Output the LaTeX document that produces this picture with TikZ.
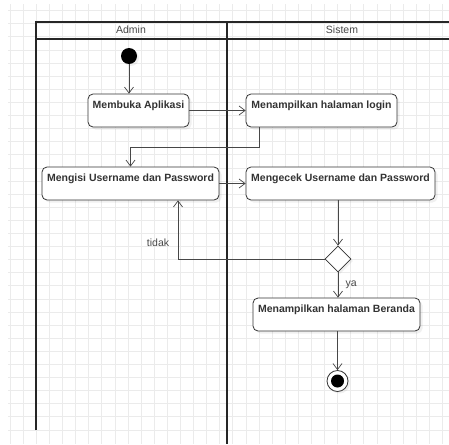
\documentclass[tikz,border=0pt]{standalone}
\usepackage{fontspec}
\setmainfont{Liberation Sans}
\usetikzlibrary{arrows.meta,shapes.geometric,shadows}
\definecolor{ink}{HTML}{333333}
\definecolor{gridc}{HTML}{EBEBEB}
\tikzset{
  act/.style={draw=ink,fill=white,rounded corners=5pt,line width=0.8pt,
    inner xsep=2pt,inner ysep=0pt,text height=14.5pt,text depth=18.5pt,
    font=\bfseries\fontsize{10.5}{12}\selectfont,text=ink,
    drop shadow={shadow xshift=2.5pt,shadow yshift=-2.5pt,opacity=0.12}},
  flow/.style={draw=ink!90,line width=0.7pt,-{Straight Barb[length=6pt,width=9pt]}},
  lbl/.style={font=\fontsize{10.5}{12}\selectfont,text=ink!90},
  lane/.style={draw=black!85,line width=1.2pt}
}
\begin{document}
\begin{tikzpicture}[x=1pt,y=-1pt]
\useasboundingbox (0,0) rectangle (449,444);
% grid
\foreach \i in {0,...,33}
  \draw[gridc,line width=0.6pt] (10+\i*13.1,4) -- (10+\i*13.1,444);
\foreach \j in {0,...,32}
  \draw[gridc,line width=0.6pt] (8,10.6+\j*13.1) -- (449,10.6+\j*13.1);
% swimlanes
\draw[lane] (36,430) -- (36,22) -- (449,22);
\draw[lane] (36,39) -- (449,39);
\draw[lane] (227,22) -- (227,444);
\node(admin) at (131,30)[lbl]   {Admin};
\node(sistem) at (342,30)[lbl]  {Sistem};

\node(mulai) at (129,56)[shape=circle,fill=black,minimum size=16pt,inner sep=0pt,
  drop shadow={shadow xshift=2pt,shadow yshift=-2pt,opacity=0.12}] {};
\node(membuka) at (138.5,110.5)[act,minimum width=101pt]   {Membuka Aplikasi};
\node(login) at (321.5,110.5)[act,minimum width=151pt]     {Menampilkan halaman login};
\node(mengisi) at (130.5,183.5)[act,minimum width=177pt]   {Mengisi Username dan Password};
\node(mengecek) at (340.5,183.5)[act,minimum width=189pt]  {Mengecek Username dan Password};
\node(cek) at (338,259)[shape=diamond,draw=ink,fill=white,line width=0.8pt,
  minimum size=26pt,inner sep=0pt,
  drop shadow={shadow xshift=2pt,shadow yshift=-2pt,opacity=0.12}] {};
\node(beranda) at (336.5,314.5)[act,minimum width=167pt]   {Menampilkan halaman Beranda};
\node(akhir) at (337.5,381)[shape=circle,draw=ink,fill=white,line width=0.8pt,
  minimum size=21pt,inner sep=0pt,
  drop shadow={shadow xshift=2pt,shadow yshift=-2pt,opacity=0.12}] {};
\node(akhirdot) at (akhir)[shape=circle,fill=black,minimum size=13pt,inner sep=0pt] {};

\coordinate(turn) at (259,147);
\coordinate(back) at (178,259);
\path [every edge/.style=flow]
  (mulai)                  edge   (mulai |- membuka.north)
  (membuka)                edge   (login)
  (mengisi)                edge   (mengisi.east -| mengecek.west)
  (mengecek.south -| cek)  edge   (cek.north)
  (cek.south)              edge   node [lbl,right,xshift=4pt] {ya} (cek.south |- beranda.north)
  (beranda.south -| akhir) edge   (akhir.north);
\draw [flow] (login.south -| turn) -- (turn) -| (mengisi.north);
\draw [flow] (cek.west) -- (back) -- (back |- mengisi.south);
\node(tidak) at (158,243)[lbl] {tidak};
\end{tikzpicture}
\end{document}
